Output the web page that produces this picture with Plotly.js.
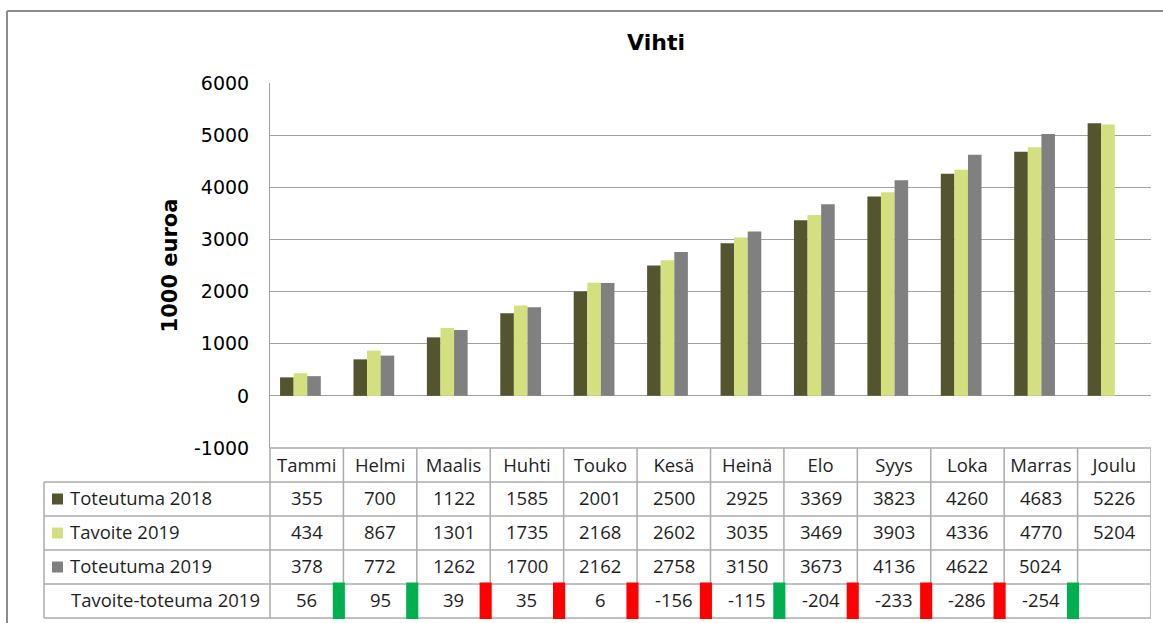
<!DOCTYPE html>
<html>
<head>
<meta charset="utf-8">
<script src="https://cdn.plot.ly/plotly-3.0.1.min.js"></script>
<style>html,body{margin:0;padding:0;background:#fff;}#chart{width:1163px;height:623px;}</style>
</head>
<body>
<div id="chart"></div>
<script>
// ---- data ----
const months = ['Tammi','Helmi','Maalis','Huhti','Touko','Kesä','Heinä','Elo','Syys','Loka','Marras','Joulu'];
const toteutuma2018 = [355,700,1122,1585,2001,2500,2925,3369,3823,4260,4683,5226];
const tavoite2019 = [434,867,1301,1735,2168,2602,3035,3469,3903,4336,4770,5204];
const toteutuma2019 = [378,772,1262,1700,2162,2758,3150,3673,4136,4622,5024,null];
const tavoiteToteuma2019 = [56,95,39,35,6,-156,-115,-204,-233,-286,-254,null];
const indicator = ['up','up','down','down','down','down','up','down','down','down','up',null];
const seriesNames = ['Toteutuma 2018','Tavoite 2019','Toteutuma 2019'];
const diffRowName = 'Tavoite-toteuma 2019';
const yTicks = [-1000,0,1000,2000,3000,4000,5000,6000];
const yTickText = ['-1000','0','1000','2000','3000','4000','5000','6000'];

// ---- styles ----
const colors = ['#54542F','#D4E07F','#808080'];
const indColors = {up:'#00B050', down:'#FF0000'};
const gridColor = '#A0A0A0';
const tableLine = '#ABABAB';
const tableFont = {family:'Open Sans, Liberation Sans, sans-serif', size:18.5, color:'#1f1f1f'};

const L = 270, R = 12, T = 83, B = 175;
const W = 1163 - L - R, H = 623 - T - B;
const pxX = px => (px - L) / W;          // pixel -> paper x
const pxY = py => (623 - B - py) / H;    // pixel -> paper y

const barW = 0.185;
const offsets = [-0.363, -0.178, 0.007];
const seriesData = [toteutuma2018, tavoite2019, toteutuma2019];

const traces = seriesData.map((d, i) => ({
  type:'bar', x: months, y: d, name: seriesNames[i],
  marker:{color: colors[i]}, width: barW, offset: offsets[i],
  hoverinfo:'x+y+name', showlegend:false
}));

// table rows (pixel)
const rowTop = 448, rowH = 34;
const rowEdges = [0,1,2,3,4,5].map(k => rowTop + k*rowH);
const rowCenter = r => rowTop + rowH*(r + 0.5); // r=0 header
const textShift = -2;

const shapes = [];
const annotations = [];

// outer chart border (top & left)
shapes.push({type:'line', xref:'paper', yref:'paper', x0:pxX(7), x1:pxX(1200), y0:pxY(11), y1:pxY(11), line:{color:'#8C8C8C', width:2}});
shapes.push({type:'line', xref:'paper', yref:'paper', x0:pxX(7), x1:pxX(7), y0:pxY(11), y1:pxY(700), line:{color:'#8C8C8C', width:2}});

// horizontal table lines
shapes.push({type:'line', xref:'paper', yref:'paper', x0:0, x1:1, y0:pxY(rowEdges[0]), y1:pxY(rowEdges[0]), line:{color:tableLine, width:1.5}});
for (let k = 1; k < rowEdges.length; k++) {
  shapes.push({type:'line', xref:'paper', yref:'paper', x0:pxX(44), x1:1, y0:pxY(rowEdges[k]), y1:pxY(rowEdges[k]), line:{color:tableLine, width:1.5}});
}
// vertical table lines
shapes.push({type:'line', xref:'paper', yref:'paper', x0:pxX(44), x1:pxX(44), y0:pxY(rowEdges[1]), y1:pxY(rowEdges[5]), line:{color:tableLine, width:1.5}});
shapes.push({type:'line', xref:'paper', yref:'paper', x0:0, x1:0, y0:pxY(rowEdges[0]), y1:pxY(rowEdges[5]), line:{color:tableLine, width:1.5}});
months.forEach((m, i) => {
  shapes.push({type:'line', xref:'x', yref:'paper', x0:i+0.5, x1:i+0.5, y0:pxY(rowEdges[0]), y1:pxY(rowEdges[5]), line:{color:tableLine, width:1.5}});
});

// legend keys + row labels
const rowNames = seriesNames.concat([diffRowName]);
rowNames.forEach((name, r) => {
  const cy = rowCenter(r + 1);
  if (r < 3) {
    shapes.push({type:'rect', xref:'paper', yref:'paper', x0:pxX(52), x1:pxX(63), y0:pxY(cy-5.5), y1:pxY(cy+5.5), line:{width:0}, fillcolor:colors[r]});
  }
  annotations.push({xref:'paper', yref:'paper', x:pxX(r < 3 ? 68 : 69), y:pxY(cy + textShift), xanchor:'left', yanchor:'middle', text:name, showarrow:false, font:tableFont});
});

// numbers
const rowsData = [toteutuma2018, tavoite2019, toteutuma2019, tavoiteToteuma2019];
rowsData.forEach((d, r) => {
  d.forEach((v, i) => {
    if (v === null) return;
    annotations.push({xref:'x', yref:'paper', x:months[i], y:pxY(rowCenter(r+1) + textShift), xanchor:'center', yanchor:'middle', text:String(v), showarrow:false, font:tableFont});
  });
});

// indicators
indicator.forEach((s, i) => {
  if (!s) return;
  shapes.push({type:'rect', xref:'x', yref:'paper', x0:i+0.5-0.145, x1:i+0.5+0.02, y0:pxY(582.5), y1:pxY(619), line:{width:0}, fillcolor:indColors[s], layer:'above'});
});

const layout = {
  width:1163, height:623,
  margin:{l:L, r:R, t:T, b:B},
  paper_bgcolor:'#fff', plot_bgcolor:'#fff',
  barmode:'overlay',
  title:{text:'<b>Vihti</b>', font:{family:'DejaVu Sans, Verdana, sans-serif', size:22, color:'#000'},
         xref:'container', yref:'container', x:656/1163, xanchor:'center', y:1-42/623, yanchor:'middle'},
  xaxis:{type:'category', range:[-0.5, 11.5], showgrid:false, zeroline:false,
         showline:false, ticks:'', tickfont:tableFont, ticklabelstandoff:4, fixedrange:true},
  yaxis:{range:[-1000, 6000], tickvals:yTicks, ticktext:yTickText, showgrid:true, gridcolor:gridColor, gridwidth:1,
         zeroline:true, zerolinecolor:gridColor, zerolinewidth:1,
         showline:true, linecolor:gridColor, linewidth:1, ticks:'',
         tickfont:{family:'DejaVu Sans, Verdana, sans-serif', size:19, color:'#000'},
         ticklabelstandoff:16, automargin:true,
         title:{text:'<b>1000 euroa</b>', font:{family:'DejaVu Sans, Verdana, sans-serif', size:21, color:'#000'}, standoff:10}},
  shapes: shapes,
  annotations: annotations,
  showlegend:false
};

Plotly.newPlot('chart', traces, layout, {displayModeBar:false, staticPlot:true});
</script>
</body>
</html>
